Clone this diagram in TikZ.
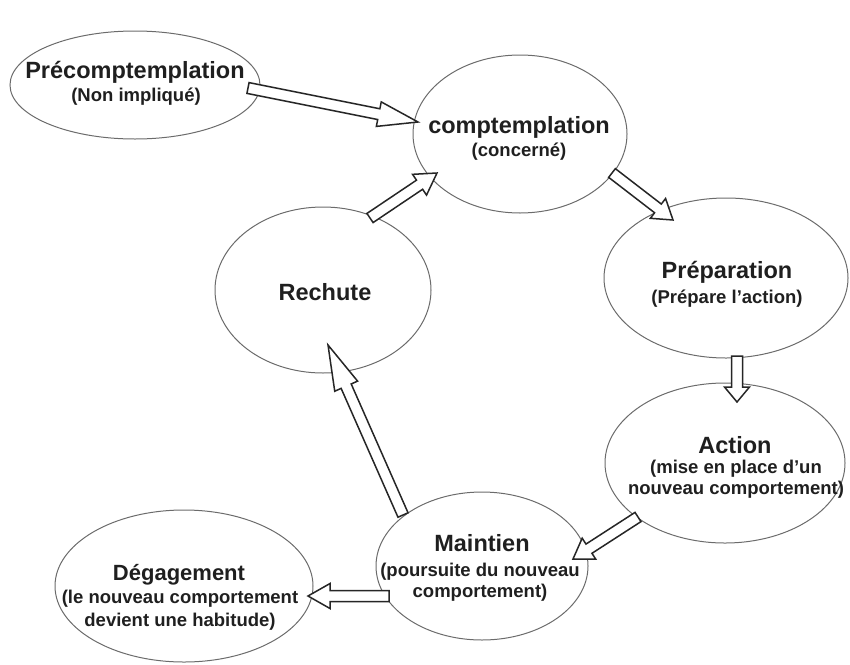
\documentclass[tikz,border=0pt]{standalone}
\usepackage{fontspec}
\setmainfont{Liberation Sans}
\usetikzlibrary{shapes.geometric,calc}

% looks shared by the stages of the cycle
\tikzset{
  stage/.style={ellipse, draw=black!58, line width=1pt, inner sep=0pt},
  stagetitle/.style={font=\fontsize{23.5}{26}\selectfont\bfseries, text=black!88,
    inner sep=0pt, anchor=base},
  stagesub/.style={font=\fontsize{18.5}{21.5}\selectfont\bfseries, text=black!88,
    inner sep=0pt, anchor=base},
  blockarrow/.style={draw=black!85, line width=1.5pt, fill=white, line join=miter},
}

% half widths of the hollow arrows
\newcommand\shaftw{5.5pt}
\newcommand\headw{12.5pt}
% \blockarrow[head length]{from}{to}: hollow block arrow
\newcommand\blockarrow[3][20]{%
  \path ($(#3)!#1pt!(#2)$) coordinate (ba-base);
  \draw[blockarrow]
    ($(#2)!\shaftw!90:(#3)$) -- ($(ba-base)!\shaftw!-90:(#2)$)
    -- ($(ba-base)!\headw!-90:(#2)$) -- (#3)
    -- ($(ba-base)!\headw!90:(#2)$) -- ($(ba-base)!\shaftw!90:(#2)$)
    -- ($(#2)!\shaftw!-90:(#3)$) -- cycle;
}

\begin{document}
\begin{tikzpicture}[x=1pt,y=-1pt]
\useasboundingbox (0,0) rectangle (850,664);

% stages
\node[stage, minimum width=250pt, minimum height=108pt] (pre)  at (135,85)  {};
\node[stage, minimum width=214pt, minimum height=158pt] (con)  at (520,134) {};
\node[stage, minimum width=244pt, minimum height=160pt] (prep) at (726,278) {};
\node[stage, minimum width=216pt, minimum height=166pt] (rech) at (323,290) {};
\node[stage, minimum width=240pt, minimum height=160pt] (act)  at (725,463) {};
\node[stage, minimum width=212pt, minimum height=148pt] (main) at (482,566) {};
\node[stage, minimum width=258pt, minimum height=152pt] (deg)  at (184,586) {};

% labels
\node[stagetitle] (pre-t)  at (135,78)    {Précomptemplation};
\node[stagesub]   (pre-s)  at (136,101.5) {(Non impliqué)};

\node[stagetitle] (con-t)  at (519,133)   {comptemplation};
\node[stagesub]   (con-s)  at (519,156.5) {(concerné)};

\node[stagetitle] (prep-t) at (727,278)   {Préparation};
\node[stagesub]   (prep-s) at (727,303.5) {(Prépare l'action)};

\node[stagetitle] (rech-t) at (325,300)   {Rechute};

\node[stagetitle] (act-t)  at (735,453)   {Action};
\node[stagesub]   (act-s1) at (736,473.5) {(mise en place d'un};
\node[stagesub]   (act-s2) at (736,494.5) {nouveau comportement)};

\node[stagetitle] (main-t) at (482,551)   {Maintien};
\node[stagesub]   (main-s1) at (480,576.5) {(poursuite du nouveau};
\node[stagesub]   (main-s2) at (480,597.5) {comportement)};

\node[stagetitle, font=\fontsize{22}{25}\selectfont\bfseries] (deg-t) at (179,580) {Dégagement};
\node[stagesub]   (deg-s1) at (180,603.5) {(le nouveau comportement};
\node[stagesub]   (deg-s2) at (180,626.5) {devient une habitude)};

% arrow ends
\coordinate (pre-out)   at ($(pre.center)+(113,3)$);
\coordinate (con-in)    at ($(con.center)+(-102,-12)$);
\coordinate (con-out)   at ($(con.center)+(92,39)$);
\coordinate (prep-in)   at ($(prep.center)+(-53,-58)$);
\coordinate (prep-out)  at ($(prep.center)+(11,78)$);
\coordinate (act-in)    at ($(act.center)+(12,-61)$);
\coordinate (act-out)   at ($(act.center)+(-87,54)$);
\coordinate (main-in)   at ($(main.center)+(91,-7)$);
\coordinate (main-out1) at ($(main.center)+(-93,30)$);
\coordinate (deg-in)    at ($(deg.center)+(124,10)$);
\coordinate (main-out2) at ($(main.center)+(-79,-51)$);
\coordinate (rech-in)   at ($(rech.center)+(5,55)$);
\coordinate (rech-out)  at ($(rech.center)+(47,-72)$);
\coordinate (con-in2)   at ($(con.center)+(-83,39)$);

% transitions
\blockarrow[40]{pre-out}{con-in}
\blockarrow[19]{con-out}{prep-in}
\blockarrow[15]{prep-out}{act-in}
\blockarrow[19]{act-out}{main-in}
\blockarrow[22]{main-out1}{deg-in}
\blockarrow[45]{main-out2}{rech-in}
\blockarrow[21]{rech-out}{con-in2}
\end{tikzpicture}
\end{document}
